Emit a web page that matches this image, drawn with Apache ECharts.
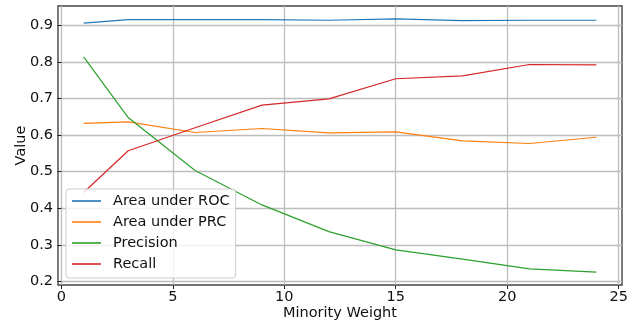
<!DOCTYPE html>
<html>
<head>
<meta charset="utf-8">
<script src="https://cdn.jsdelivr.net/npm/echarts@6/dist/echarts.min.js"></script>
<style>
  html, body { margin: 0; padding: 0; background: #fff; }
  #chart { width: 638px; height: 325px; }
</style>
</head>
<body>
<div id="chart"></div>
<script>
// Minority class weight used for each run
const weights = [1, 3, 6, 9, 12, 15, 18, 21, 24];

// Metric values per weight
const aucRoc    = [0.906, 0.916, 0.916, 0.916, 0.914, 0.918, 0.913, 0.914, 0.914];
const aucPrc    = [0.632, 0.636, 0.607, 0.618, 0.606, 0.609, 0.584, 0.577, 0.594];
const precision = [0.814, 0.648, 0.503, 0.409, 0.336, 0.286, 0.261, 0.234, 0.225];
const recall    = [0.443, 0.557, 0.620, 0.682, 0.699, 0.754, 0.762, 0.793, 0.792];

// Tick labels
const xTicks = [0, 5, 10, 15, 20, 25];
const yTicks = [0.2, 0.3, 0.4, 0.5, 0.6, 0.7, 0.8, 0.9];

const seriesDefs = [
  { name: 'Area under ROC', values: aucRoc, color: '#1f77b4' },
  { name: 'Area under PRC', values: aucPrc, color: '#ff7f0e' },
  { name: 'Precision', values: precision, color: '#2ca02c' },
  { name: 'Recall', values: recall, color: '#d62728' }
];

const FONT = 'DejaVu Sans';
const FS = 14.5;
const chart = echarts.init(document.getElementById('chart'), null, { renderer: 'canvas' });

chart.setOption({
  animation: false,
  backgroundColor: '#ffffff',
  grid: {
    left: 58, right: 16, top: 6, bottom: 40,
    containLabel: false,
    outerBoundsMode: 'none',
    show: true, borderColor: '#444444', borderWidth: 1.4, backgroundColor: 'transparent'
  },
  xAxis: {
    type: 'value',
    min: -0.15, max: 25.15,
    name: 'Minority Weight',
    nameLocation: 'middle',
    nameGap: 21,
    nameMoveOverlap: false,
    nameTextStyle: { fontFamily: FONT, fontSize: FS, color: '#111' },
    axisLine: { show: false },
    axisTick: { show: true, customValues: xTicks, length: 4, lineStyle: { color: '#222', width: 1 } },
    axisLabel: { customValues: xTicks, fontFamily: FONT, fontSize: FS, color: '#111', margin: 5,
                 formatter: v => String(v) },
    splitLine: { show: true, lineStyle: { color: '#bdbdbd', width: 1.3 } }
  },
  yAxis: {
    type: 'value',
    min: 0.19, max: 0.953,
    name: 'Value',
    nameLocation: 'middle',
    nameGap: 29,
    nameMoveOverlap: false,
    nameTextStyle: { fontFamily: FONT, fontSize: FS, color: '#111' },
    axisLine: { show: false },
    axisTick: { show: true, customValues: yTicks, length: 4, lineStyle: { color: '#222', width: 1 } },
    axisLabel: { customValues: yTicks, fontFamily: FONT, fontSize: FS, color: '#111', margin: 5,
                 formatter: v => v.toFixed(1) },
    splitLine: { show: true, lineStyle: { color: '#bdbdbd', width: 1.3 } }
  },
  legend: {
    orient: 'vertical',
    left: 66, top: 189,
    padding: [4, 6, 6, 6],
    itemGap: 5,
    itemWidth: 29,
    itemHeight: 1.6,
    icon: 'rect',
    backgroundColor: 'rgba(255,255,255,0.8)',
    borderColor: '#cccccc',
    borderWidth: 1,
    borderRadius: 3,
    textStyle: { fontFamily: FONT, fontSize: FS, color: '#111', lineHeight: 16, padding: [0, 0, 0, 7] },
    data: seriesDefs.map(s => s.name)
  },
  series: seriesDefs.map(s => ({
    name: s.name,
    type: 'line',
    data: weights.map((w, i) => [w, s.values[i]]),
    showSymbol: false,
    symbol: 'none',
    color: s.color,
    lineStyle: { color: s.color, width: 1.2 },
    itemStyle: { color: s.color }
  }))
});
</script>
</body>
</html>
